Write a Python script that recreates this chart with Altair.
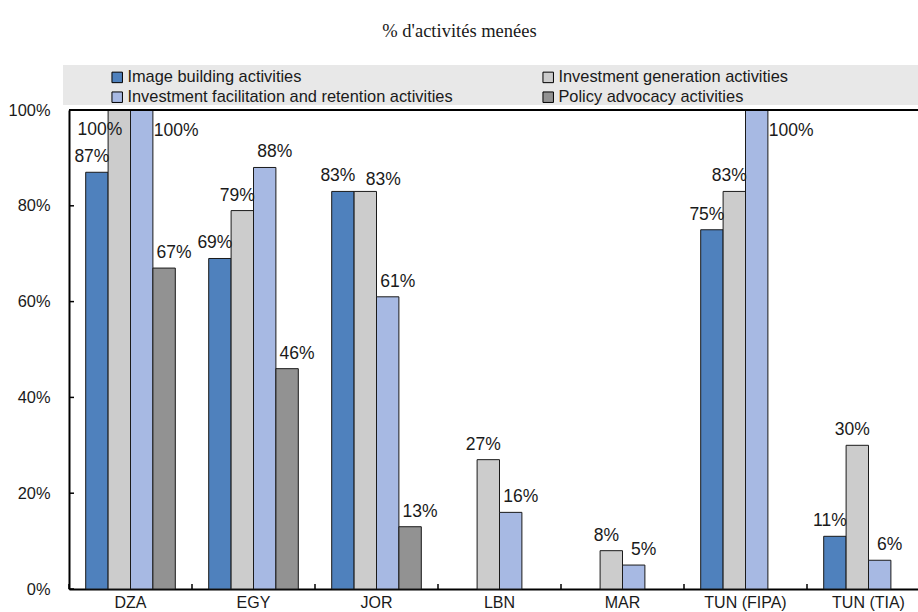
import altair as alt
import pandas as pd

# Categories (IPAs) and the four activity series, shares in %
categories = ["DZA", "EGY", "JOR", "LBN", "MAR", "TUN (FIPA)", "TUN (TIA)"]
series = [
    "Image building activities",
    "Investment generation activities",
    "Investment facilitation and retention activities",
    "Policy advocacy activities",
]
image_building = [87, 69, 83, None, None, 75, 11]
investment_generation = [100, 79, 83, 27, 8, 83, 30]
facilitation_retention = [100, 88, 61, 16, 5, 100, 6]
policy_advocacy = [67, 46, 13, None, None, None, None]

colors = ["#4F81BD", "#CCCCCC", "#A7B9E3", "#929292"]
y_ticks = [0, 20, 40, 60, 80, 100]

W, H = 849, 479          # visible plot area
X_RANGE = 861            # full band range (last band runs past the right edge)

rows = []
for s_idx, (name, vals) in enumerate(zip(series, [image_building, investment_generation,
                                                   facilitation_retention, policy_advocacy])):
    for c, v in zip(categories, vals):
        if v is not None:
            rows.append({"category": c, "series": name, "s_idx": s_idx, "value": v})
df = pd.DataFrame(rows)
df["label"] = df["value"].astype(int).astype(str) + "%"
df["side"] = df["s_idx"].map(lambda i: "left" if i < 2 else "right")
df["top"] = df["value"] >= 100
# a label collides with its left neighbour when both bars have the same height
prev = df.set_index(["category", "s_idx"])["value"]
df["collide"] = [
    (not r.top) and (r.category, r.s_idx - 1) in prev.index
    and prev[(r.category, r.s_idx - 1)] == r.value
    for r in df.itertuples()
]

FONT = "Liberation Sans"

x_enc = alt.X(
    "category:N",
    sort=categories,
    scale=alt.Scale(domain=categories, range=[0, X_RANGE], paddingInner=0, paddingOuter=0),
    axis=alt.Axis(
        title=None, labelAngle=0, ticks=False, domainColor="black", domainWidth=2,
        grid=True, gridColor="white", gridWidth=1.5, bandPosition=0,
        labelFont=FONT, labelFontSize=16, labelColor="#1a1a1a", labelPadding=5,
    ),
)
xoff_enc = alt.XOffset(
    "series:N", sort=series,
    scale=alt.Scale(domain=series, paddingInner=0, paddingOuter=0.745),
)
y_enc = alt.Y(
    "value:Q",
    scale=alt.Scale(domain=[0, 100], nice=False),
    axis=alt.Axis(
        title=None, values=y_ticks, labelExpr="datum.value + '%'", ticks=False,
        domainColor="black", domainWidth=2, grid=True, gridColor="white", gridWidth=1.5,
        labelFont=FONT, labelFontSize=16.4, labelColor="#1a1a1a", labelPadding=19,
    ),
)

base = alt.Chart(df)

bars = base.mark_bar(stroke="#1a1a1a", strokeWidth=1).encode(
    x=x_enc,
    xOffset=xoff_enc,
    y=y_enc,
    color=alt.Color(
        "series:N",
        scale=alt.Scale(domain=series, range=colors),
        legend=alt.Legend(
            title=None, orient="none", legendX=40, legendY=-41, columns=2,
            direction="horizontal", columnPadding=87, rowPadding=3, padding=0,
            symbolType="square", symbolSize=110, symbolStrokeColor="black",
            symbolStrokeWidth=1, labelOffset=2, labelFont=FONT, labelFontSize=16.4,
            labelColor="#1a1a1a", labelLimit=500,
        ),
    ),
)

def labels(filt, **mark):
    style = dict(font=FONT, fontSize=17.5, color="#1a1a1a", baseline="alphabetic")
    style.update(mark)
    return base.transform_filter(filt).mark_text(**style).encode(
        x=alt.X("category:N", sort=categories),
        xOffset=alt.XOffset("series:N", sort=series),
        y=alt.Y("value:Q"),
        text="label:N",
    )

lab_left = labels("datum.side == 'left' && !datum.top && !datum.collide", dx=-5, dy=-10)
lab_right = labels("datum.side == 'right' && !datum.top && !datum.collide", dx=10, dy=-10)
lab_collide = labels("datum.collide", dx=18, dy=-6)
lab_top_left = labels("datum.side == 'left' && datum.top", align="right", dx=3, dy=25)
lab_top_right = labels("datum.side == 'right' && datum.top", align="left", dx=12, dy=26)

# inward axis ticks
x_ticks = alt.Chart(pd.DataFrame({"category": categories})).mark_rule(
    color="black", strokeWidth=1.5
).encode(
    x=alt.X("category:N", sort=categories, bandPosition=0),
    y=alt.value(H), y2=alt.value(H - 5),
)
y_tick_marks = alt.Chart(pd.DataFrame({"value": y_ticks})).mark_rule(
    color="black", strokeWidth=1.5
).encode(y=alt.Y("value:Q"), x=alt.value(0), x2=alt.value(5))

# top frame line and legend band
frame = alt.Chart(pd.DataFrame({"value": [100]})).mark_rule(
    color="black", strokeWidth=2
).encode(y=alt.Y("value:Q"), x=alt.value(0), x2=alt.value(X_RANGE))
legend_band = alt.Chart(pd.DataFrame({"k": [0]})).mark_rect(
    color="#E8E8E8", clip=False
).encode(x=alt.value(-6), x2=alt.value(X_RANGE), y=alt.value(-45), y2=alt.value(-5))

chart = alt.layer(
    legend_band, bars, lab_left, lab_right, lab_collide, lab_top_left, lab_top_right,
    x_ticks, y_tick_marks, frame,
).properties(
    width=W, height=H,
    autosize=alt.AutoSizeParams(type="none"),
    padding={"left": 69, "top": 110, "right": 0, "bottom": 23},
    title=alt.TitleParams(
        "% d'activités menées", font="Liberation Serif", fontSize=18.5, fontWeight="normal",
        color="#1a1a1a", anchor="middle", frame="group", dx=-34, offset=25,
    ),
).configure_view(
    stroke=None, fill="#F4FFFF"
).configure(background="white")

chart.save("out.html", embed_options={"renderer": "svg", "actions": False})
